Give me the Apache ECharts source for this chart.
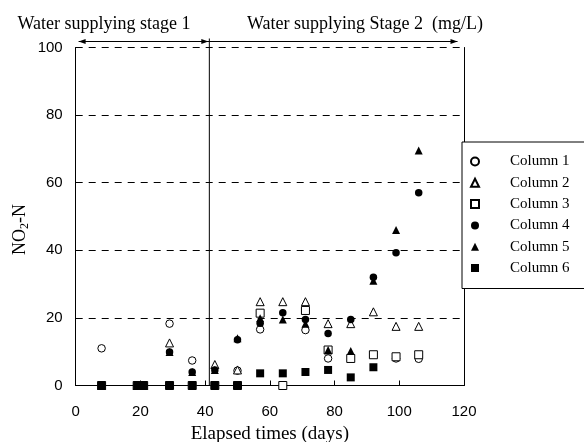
<!DOCTYPE html>
<html><head><meta charset="utf-8">
<script src="https://cdn.jsdelivr.net/npm/echarts@6/dist/echarts.min.js"></script>
<style>html,body{margin:0;padding:0;background:#fff}#c{width:584px;height:442px}</style>
</head><body><div id="c"></div>
<script>
// ---- data ----
const days = [8, 19, 21, 29, 36, 43, 50, 57, 64, 71, 78, 85, 92, 99, 106];
const seriesNames = ['Column 1', 'Column 2', 'Column 3', 'Column 4', 'Column 5', 'Column 6'];
const column1 = [11, 0, 0, 18.3, 7.4, null, 4.4, 16.6, null, 16.4, 8, null, null, 8, 7.9];
const column2 = [0, 0, 0, 12.6, null, 6.2, 4.6, 24.8, 24.8, 24.8, 18.3, 18.3, 21.8, 17.5, 17.5];
const column3 = [0, 0, 0, 0, 0, 0, 0, 21.4, 0, 22.2, 10.5, 8, 9.1, 8.5, 9.1];
const column4 = [0, 0, 0, 9.9, 4.0, 4.6, 13.5, 18.4, 21.5, 19.5, 15.4, 19.5, 32, 39.3, 57];
const column5 = [0, 0, 0, 9.9, 4.0, 4.6, 14, 19.9, 19.5, 18.3, 10.5, 10.2, 31, 46, 69.5];
const column6 = [0, 0, 0, 0, 0, 0, 0, 3.6, 3.6, 4.0, 4.6, 2.4, 5.4, null, null];
const xRange = [0, 120, 20];
const yRange = [0, 100, 20];
const stageBoundaryDay = 41.3;
const stageArrowSpans = [[0.9, 41.3], [41.3, 118]];
const stageLabels = ['Water supplying stage 1', 'Water supplying Stage 2  (mg/L)'];
const xAxisTitle = 'Elapsed times (days)';
const yAxisTitle = '{a|NO}{b|2}{a|-N}';

// ---- chart ----
const allCols = [column1, column2, column3, column4, column5, column6];
const symbols = ['circle', 'triangle', 'rect', 'circle', 'triangle', 'rect'];
const filled = [false, false, false, true, true, true];
const serif = 'Liberation Serif, Times New Roman, serif';
const sans = 'Liberation Sans, Arial, sans-serif';

const chart = echarts.init(document.getElementById('c'), null, {renderer: 'canvas'});

const series = allCols.map((col, i) => ({
  name: seriesNames[i],
  type: 'scatter',
  symbol: symbols[i],
  symbolSize: symbols[i] === 'circle' ? 7.5 : 8,
  data: days.map((d, k) => col[k] == null ? null : [d, col[k]]).filter(p => p),
  itemStyle: filled[i]
    ? {color: '#000', borderColor: '#000', borderWidth: 0, opacity: 1}
    : {color: '#fff', borderColor: '#000', borderWidth: 1, opacity: 1},
  emphasis: {disabled: true},
  z: 3 + i
}));

chart.setOption({
  animation: false,
  backgroundColor: '#fff',
  grid: {left: 75.7, right: 120, top: 47.5, bottom: 56.5, containLabel: false, outerBoundsMode: 'none'},
  legend: {
    orient: 'vertical', left: 462, top: 142,
    padding: [12, 40, 13, 8],
    borderColor: '#000', borderWidth: 1, backgroundColor: '#fff',
    itemWidth: 8, itemHeight: 8, itemGap: 6.3,
    data: seriesNames,
    textStyle: {fontFamily: serif, fontSize: 15, color: '#000', lineHeight: 15, padding: [0, 0, 0, 26]},
    selectedMode: false
  },
  xAxis: {
    type: 'value', min: xRange[0], max: xRange[1], interval: xRange[2],
    name: xAxisTitle, nameLocation: 'middle', nameGap: 39,
    nameTextStyle: {fontFamily: serif, fontSize: 19, color: '#000'},
    axisLine: {show: true, onZero: false, lineStyle: {color: '#000', width: 1}},
    axisTick: {show: true, inside: true, length: 5, lineStyle: {color: '#000'}},
    axisLabel: {fontFamily: sans, fontSize: 15, color: '#000', margin: 19},
    splitLine: {show: false}
  },
  yAxis: [{
    type: 'value', min: yRange[0], max: yRange[1], interval: yRange[2],
    name: yAxisTitle, nameLocation: 'middle', nameGap: 45, nameRotate: 90,
    nameMoveOverlap: false,
    nameTextStyle: {
      padding: [0, 26, 0, 0],
      rich: {
        a: {fontFamily: serif, fontSize: 18, color: '#000'},
        b: {fontFamily: serif, fontSize: 12, color: '#000', padding: [9, 0, 0, 0]}
      }
    },
    axisLine: {show: true, onZero: false, lineStyle: {color: '#000', width: 1}},
    axisTick: {show: true, inside: true, length: 4, lineStyle: {color: '#000'}},
    axisLabel: {fontFamily: sans, fontSize: 15, color: '#000', margin: 13},
    splitLine: {show: true, lineStyle: {color: '#000', type: [7, 6], width: 1}}
  }, {
    type: 'value', min: yRange[0], max: yRange[1], interval: yRange[2], position: 'right',
    axisLine: {show: true, onZero: false, lineStyle: {color: '#000', width: 1}},
    axisTick: {show: false}, axisLabel: {show: false}, splitLine: {show: false}
  }],
  series: series
});

// ---- stage annotations, positioned through the axes ----
const px = v => chart.convertToPixel({xAxisIndex: 0}, v);
const py = v => chart.convertToPixel({yAxisIndex: 0}, v);
const yTop = py(yRange[1]);
const yBottom = py(yRange[0]);
const arrowY = yTop - 6;
const graphics = [];
function head(x, dir) {
  return {type: 'polygon', shape: {points: [[x, arrowY], [x - dir * 7, arrowY - 2.5], [x - dir * 7, arrowY + 2.5]]},
    style: {fill: '#000'}, z: 20};
}
stageArrowSpans.forEach((s, i) => {
  const x1 = px(s[0]), x2 = px(s[1]);
  graphics.push({type: 'line', shape: {x1: x1, y1: arrowY, x2: x2, y2: arrowY}, style: {stroke: '#000', lineWidth: 1}, z: 20});
  if (i === 0) graphics.push(head(x1, -1));
  graphics.push(head(x2 - (i === 0 ? 1 : 0), 1));
});
const bx = px(stageBoundaryDay);
graphics.push({type: 'line', shape: {x1: bx, y1: arrowY - 3, x2: bx, y2: yBottom}, style: {stroke: '#000', lineWidth: 1}, z: 20});
graphics.push({type: 'text', x: 104, y: 24, style: {text: stageLabels[0], font: '18px ' + serif, fill: '#000', align: 'center', verticalAlign: 'middle'}, z: 20});
graphics.push({type: 'text', x: 247, y: 24, style: {text: stageLabels[1], font: '18px ' + serif, fill: '#000', align: 'left', verticalAlign: 'middle'}, z: 20});
chart.setOption({graphic: graphics});
</script>
</body></html>
